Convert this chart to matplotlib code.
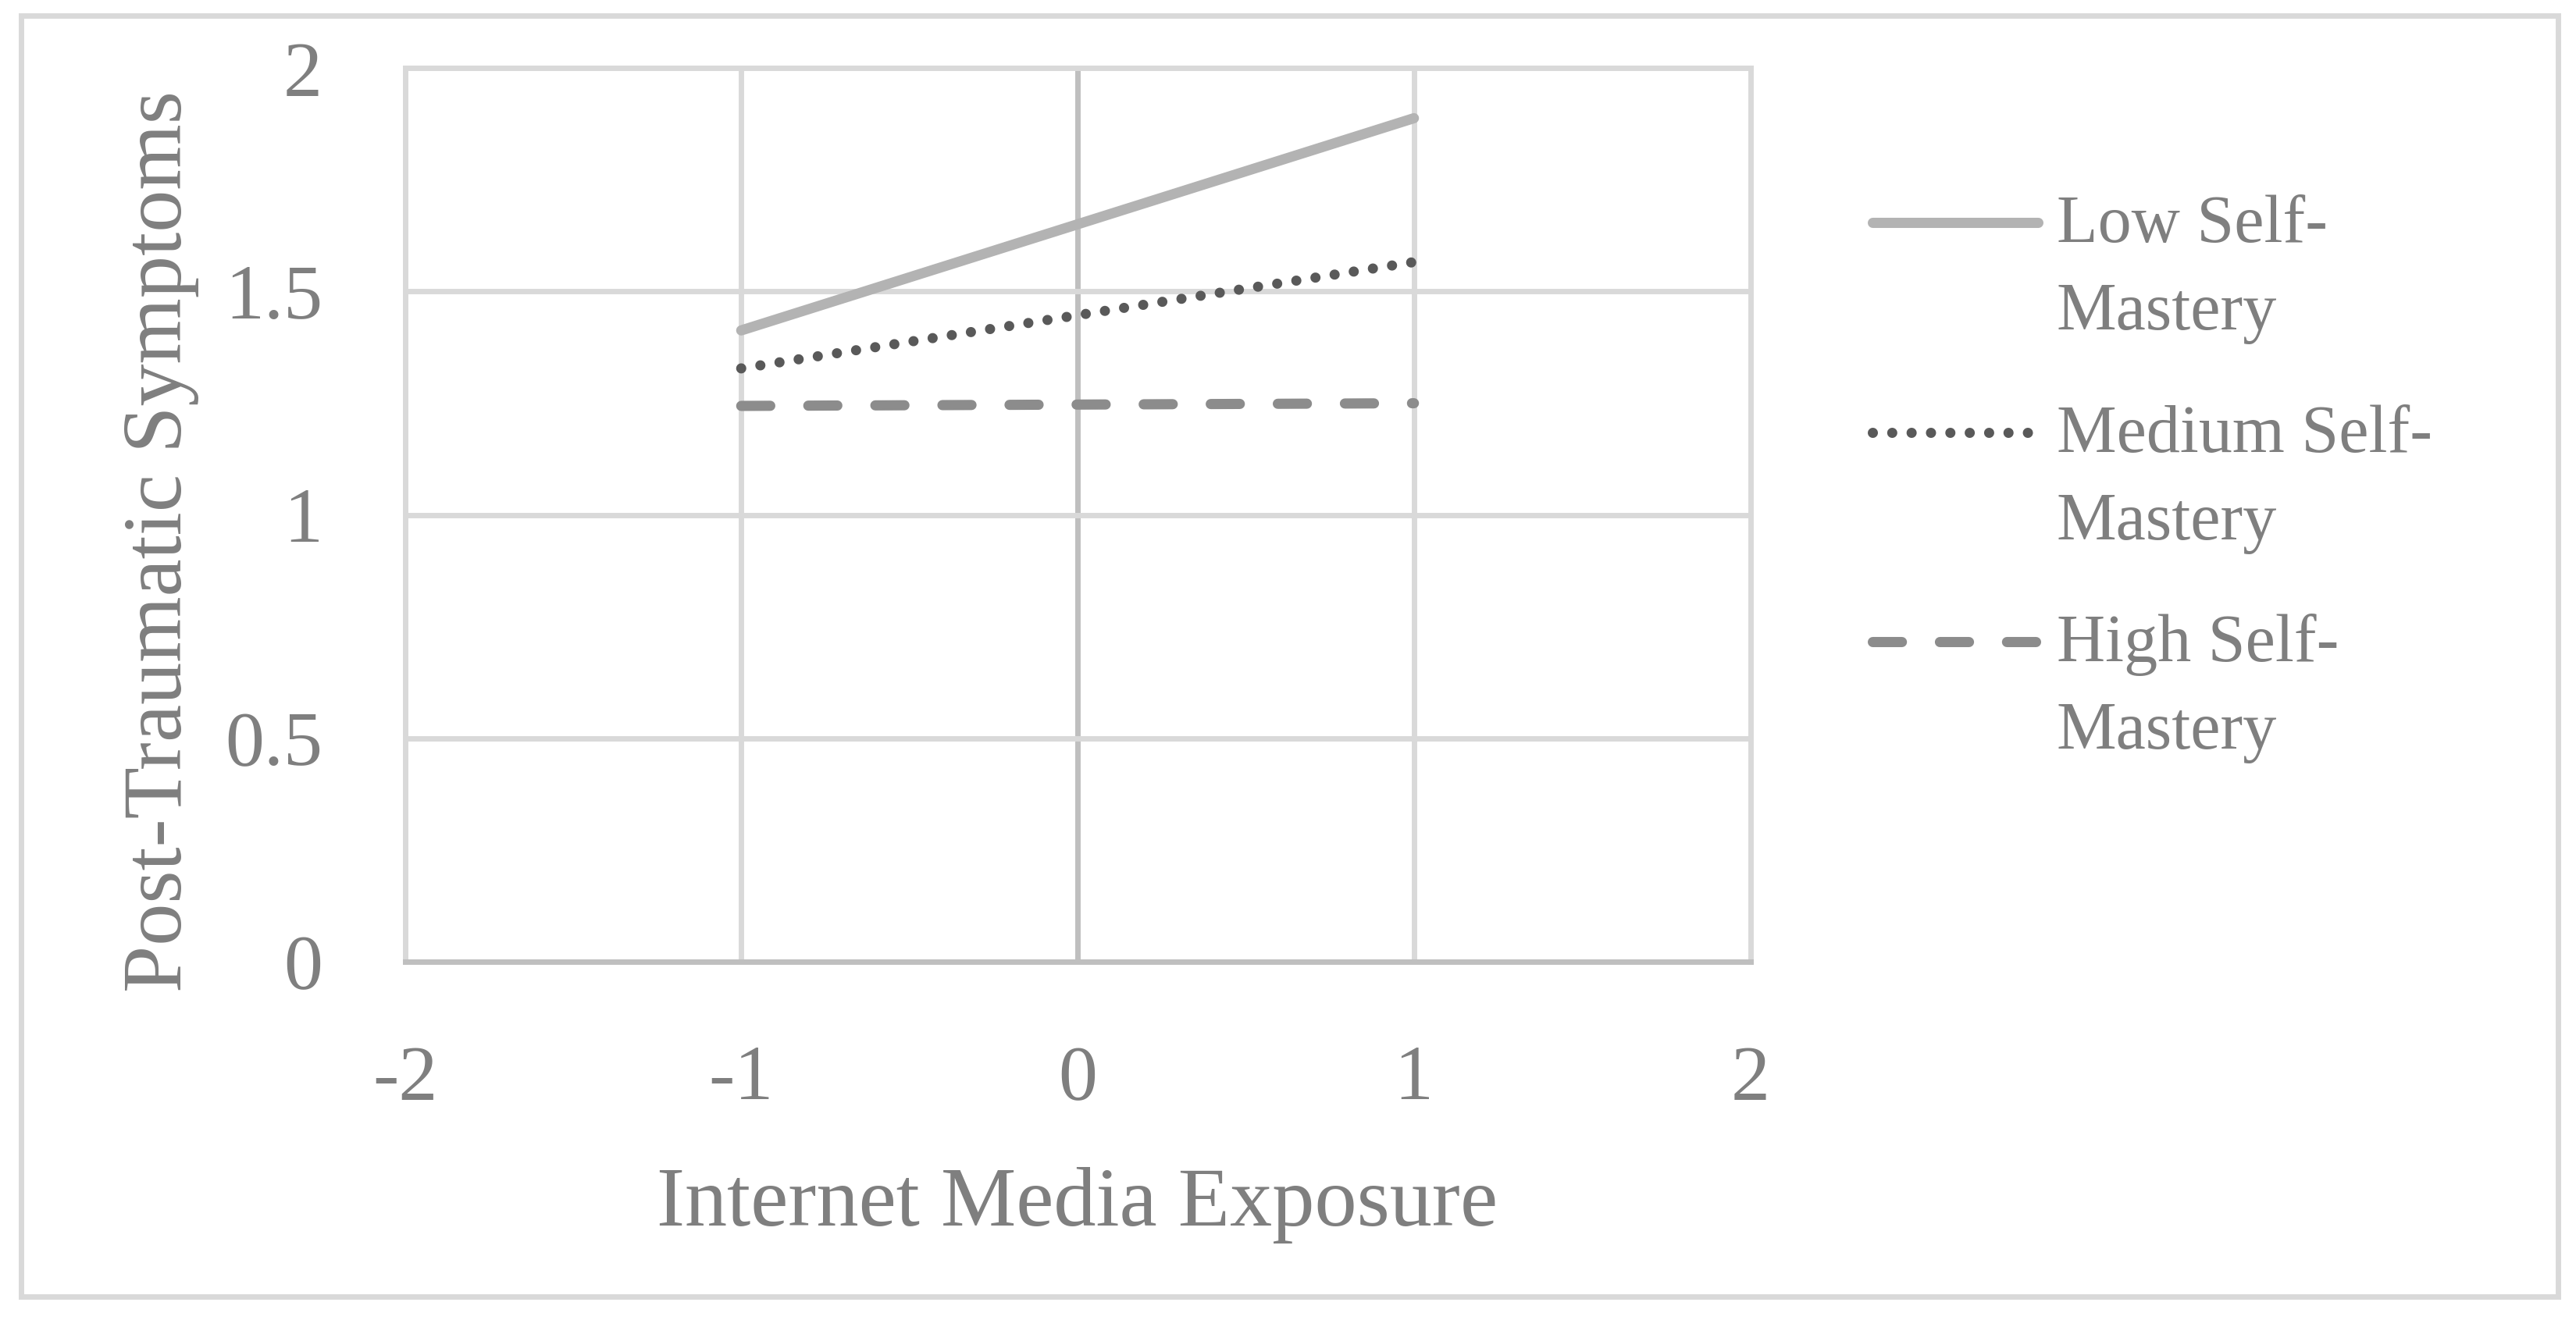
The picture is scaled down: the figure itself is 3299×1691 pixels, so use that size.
import numpy as np
import matplotlib.pyplot as plt
from matplotlib.lines import Line2D

plt.rcParams['font.family'] = ['Liberation Serif', 'DejaVu Serif']

# simple slopes: x at -1 SD and +1 SD
exposure = [-1, 1]
low_mastery = [1.413, 1.888]
medium_mastery = [1.328, 1.566]
high_mastery = [1.244, 1.250]

series_names = ['Low Self-\nMastery', 'Medium Self-\nMastery', 'High Self-\nMastery']
x_ticks = [-2, -1, 0, 1, 2]
y_ticks = [0, 0.5, 1, 1.5, 2]
y_tick_labels = ['0', '0.5', '1', '1.5', '2']

W, H = 3299, 1691
DPI = 100
TEXT = '#7f7f7f'
GRID = '#d9d9d9'
AXIS = '#bfbfbf'
LW = 9.4


def fx(px):
    return px / W


def fy(py):
    return 1 - py / H


styles = [
    dict(color='#b3b3b3', linestyle='-', solid_capstyle='round'),
    dict(color='#595959', linestyle=(0, (0.001, 1.9)), dash_capstyle='round'),
    dict(color='#8c8c8c', linestyle=(0, (2.85, 3.73)), dash_capstyle='round'),
]

fig = plt.figure(figsize=(W / DPI, H / DPI), dpi=DPI)
ax = fig.add_axes([fx(518.5), fy(1232), fx(2241.5) - fx(518.5), fy(87.3) - fy(1232)])

# gridlines
for xv in x_ticks[1:-1]:
    ax.axvline(xv, color=AXIS if xv == 0 else GRID, lw=5, zorder=1)
for yv in y_ticks[1:]:
    ax.axhline(yv, color=GRID, lw=5, zorder=1)

for spine in ['left', 'right', 'top']:
    ax.spines[spine].set_color(GRID)
    ax.spines[spine].set_linewidth(5)
ax.spines['bottom'].set_color(AXIS)
ax.spines['bottom'].set_linewidth(5)

for ys, st in zip([low_mastery, medium_mastery, high_mastery], styles):
    ax.plot(exposure, ys, lw=LW, zorder=3, **st)

ax.set_xlim(-2, 2)
ax.set_ylim(0, 2)
ax.set_xticks(x_ticks)
ax.set_xticklabels([str(v) for v in x_ticks])
ax.set_yticks(y_ticks)
ax.set_yticklabels(y_tick_labels)
ax.tick_params(axis='both', length=0, labelsize=72, labelcolor=TEXT)
ax.tick_params(axis='y', pad=76)
ax.tick_params(axis='x', pad=77)

ax.set_xlabel('Internet Media Exposure', fontsize=78, color=TEXT)
ax.xaxis.label.set_verticalalignment('baseline')
ax.xaxis.set_label_coords(0.5, -(1570 - 1232) / (1232 - 87.3))
ax.set_ylabel('Post-Traumatic Symptoms', fontsize=78, color=TEXT)
ax.yaxis.label.set_verticalalignment('center')
ax.yaxis.set_label_coords(-(518.5 - 206) / (2241.5 - 518.5), (1232 - 694) / (1232 - 87.3))

# legend, drawn by hand so the key sits on the first text line
row_y = [285, 554, 822]
for name, st, ry in zip(series_names, styles, row_y):
    fig.add_artist(Line2D([fx(2398), fx(2610)], [fy(ry), fy(ry)], lw=LW,
                          transform=fig.transFigure, **st))
    for i, line in enumerate(name.split('\n')):
        fig.text(fx(2634), fy(ry + 25 + i * 112), line, fontsize=62, color=TEXT,
                 va='baseline', ha='left')

# chart border
fig.add_artist(plt.Rectangle((fx(27), fy(1661)), fx(3276) - fx(27), fy(20) - fy(1661),
                             transform=fig.transFigure, fill=False, ec=GRID, lw=5))

fig.savefig('out.png', dpi=DPI)
